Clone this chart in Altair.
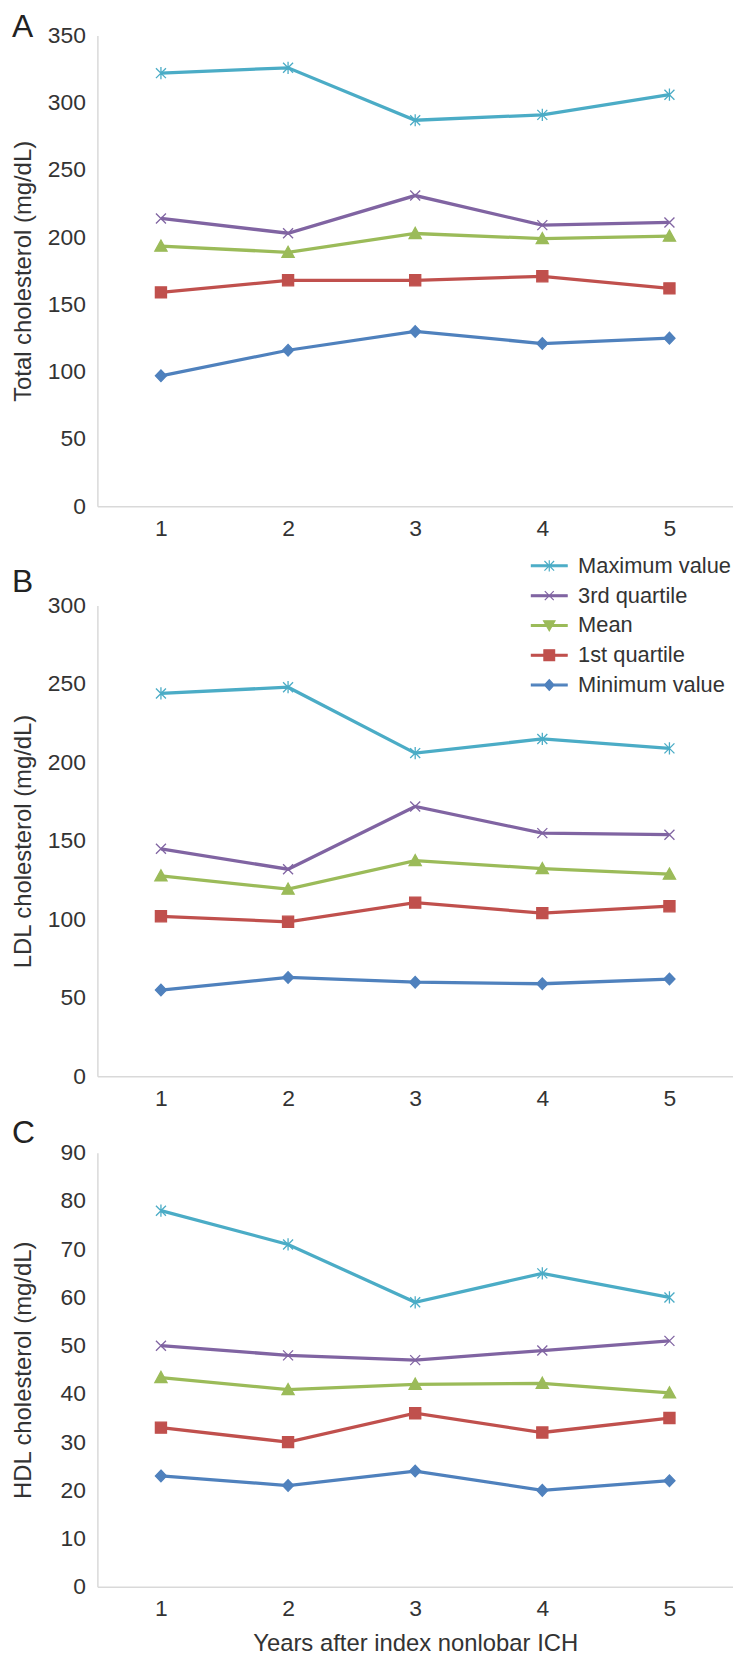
import altair as alt
import pandas as pd

FONT = "Liberation Sans"

years = [1, 2, 3, 4, 5]
series = ["Maximum value", "3rd quartile", "Mean", "1st quartile", "Minimum value"]
colors = ["#4bacc6", "#8064a2", "#9bbb59", "#c0504d", "#4f81bd"]

# Panel A - Total cholesterol
total_max = [322, 326, 287, 291, 306]
total_q3 = [214, 203, 231, 209, 211]
total_mean = [193.4, 188.8, 202.8, 199.0, 200.8]
total_q1 = [159, 168, 168, 171, 162]
total_min = [97, 116, 130, 121, 125]

# Panel B - LDL cholesterol
ldl_max = [244, 248, 206, 215, 209]
ldl_q3 = [145, 132, 172, 155, 154]
ldl_mean = [127.7, 119.3, 137.4, 132.4, 128.8]
ldl_q1 = [102, 98.5, 110.7, 104, 108.4]
ldl_min = [55, 63, 60, 59, 62]

# Panel C - HDL cholesterol
hdl_max = [78, 71, 59, 65, 60]
hdl_q3 = [50, 48, 47, 49, 51]
hdl_mean = [43.4, 40.9, 42.0, 42.2, 40.2]
hdl_q1 = [33, 30, 36, 32, 35]
hdl_min = [23, 21, 24, 20, 22]

# marker shapes for data points (normalized -1..1)
marker_paths = [
    "M-0.9,-0.9L0.9,0.9M-0.9,0.9L0.9,-0.9M0,-1.1L0,1.1",   # asterisk
    "M-0.9,-0.9L0.9,0.9M-0.9,0.9L0.9,-0.9",               # x
    "M0,-1.1L1.1,0.9L-1.1,0.9Z",                           # triangle up
    "M-1,-1L1,-1L1,1L-1,1Z",                               # square
    "M0,-1.05L1,0L0,1.05L-1,0Z",                           # diamond
]
# legend symbols: line segment + marker
bar = "M-1,-0.05L1,-0.05L1,0.05L-1,0.05Z"
legend_paths = [
    bar + "M-0.27,-0.27L0.27,0.27M-0.27,0.27L0.27,-0.27M0,-0.32L0,0.32",
    bar + "M-0.25,-0.25L0.25,0.25M-0.25,0.25L0.25,-0.25",
    bar + "M-0.32,-0.26L0.32,-0.26L0,0.3Z",
    bar + "M-0.3,-0.3L0.3,-0.3L0.3,0.3L-0.3,0.3Z",
    bar + "M0,-0.3L0.27,0L0,0.3L-0.27,0Z",
]


def make_df(vals):
    rows = []
    for name, vs in zip(series, vals):
        for yr, v in zip(years, vs):
            rows.append({"year": yr, "value": v, "series": name})
    return pd.DataFrame(rows)


def panel(vals, ymax, ystep, ytitle, letter, height, xtitle=None, legend=False, title_offset=0):
    df = make_df(vals)
    xaxis = alt.Axis(values=years, format="d", title=xtitle, labelPadding=11,
                     titlePadding=11)
    yaxis = alt.Axis(values=list(range(0, ymax + 1, ystep)), title=ytitle,
                     labelPadding=12, titlePadding=10, minExtent=52, maxExtent=52)
    x = alt.X("year:Q", scale=alt.Scale(domain=[0.5, 5.5], nice=False), axis=xaxis)
    y = alt.Y("value:Q", scale=alt.Scale(domain=[0, ymax], nice=False), axis=yaxis)
    cscale = alt.Scale(domain=series, range=colors)

    base = alt.Chart(df)
    lines = base.mark_line(strokeWidth=3.3).encode(
        x=x, y=y, color=alt.Color("series:N", scale=cscale, legend=None),
        detail="series:N",
    )
    points = base.mark_point(size=125, strokeWidth=1.3, opacity=1).encode(
        x=x, y=y,
        fill=alt.Fill("series:N", scale=cscale, legend=None),
        stroke=alt.Stroke("series:N", scale=cscale, legend=None),
        shape=alt.Shape("series:N", scale=alt.Scale(domain=series, range=marker_paths), legend=None),
    )
    layers = [lines, points]
    if legend:
        leg = alt.Legend(title=None, orient="none", legendX=436, legendY=-59,
                         symbolSize=1296, symbolStrokeWidth=1.2, labelFontSize=22,
                         labelColor="#333333", labelOffset=10, rowPadding=0, padding=0,
                         labelFont=FONT, symbolOpacity=1)
        legend_layer = base.mark_point(size=1296, strokeWidth=1.2, opacity=1).encode(
            x=x, y=y,
            fill=alt.Fill("series:N", scale=cscale, legend=leg),
            stroke=alt.Stroke("series:N", scale=cscale, legend=leg),
            shape=alt.Shape("series:N", scale=alt.Scale(domain=series, range=legend_paths), legend=leg),
        ).transform_filter("false")
        layers.append(legend_layer)
    ch = alt.layer(*layers)
    if legend:
        ch = ch.resolve_scale(shape="independent").resolve_legend(
            fill="independent", stroke="independent", shape="independent")
    return ch.properties(
        width=640, height=height,
        title=alt.TitleParams(letter, anchor="start", frame="bounds", fontSize=32,
                              fontWeight="normal", color="#222222", font=FONT,
                              offset=title_offset),
    )


a = panel([total_max, total_q3, total_mean, total_q1, total_min], 350, 50,
          "Total cholesterol (mg/dL)", "A", 474, title_offset=-20)
b = panel([ldl_max, ldl_q3, ldl_mean, ldl_q1, ldl_min], 300, 50,
          "LDL cholesterol (mg/dL)", "B", 474, legend=True, title_offset=-52)
c = panel([hdl_max, hdl_q3, hdl_mean, hdl_q1, hdl_min], 90, 10,
          "HDL cholesterol (mg/dL)", "C", 437, xtitle="Years after index nonlobar ICH",
          title_offset=-8)

chart = alt.vconcat(a, b, c, spacing=7).properties(
    padding={"left": 4, "top": -2, "right": 0, "bottom": 0}
).configure(
    font=FONT
).configure_view(stroke=None).configure_axis(
    domainColor="#d9d9d9", domainWidth=1.5, ticks=False, grid=False,
    labelFontSize=23, labelColor="#333333", labelFont=FONT,
    titleFontSize=24, titleFontWeight="normal", titleColor="#333333", titleFont=FONT,
)

chart.save("out.html", embed_options={"renderer": "svg", "actions": False})
